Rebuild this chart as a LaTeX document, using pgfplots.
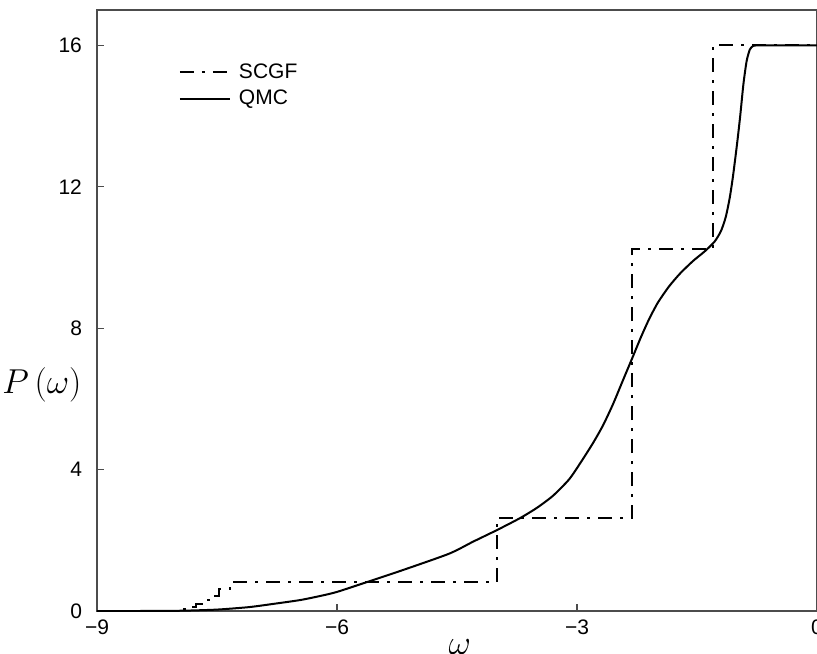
\documentclass[border=0pt]{standalone}
\usepackage{pgfplots}
\pgfplotsset{compat=1.18}
\usepackage{fontspec}
\setmainfont{Liberation Sans}

% SCGF: staircase estimate of P(omega)
\pgfplotstableread{
x y
-9.00 0
-7.96 0
-7.96 0.05
-7.86 0.05
-7.86 0.11
-7.76 0.11
-7.76 0.20
-7.66 0.20
-7.66 0.30
-7.56 0.30
-7.56 0.42
-7.48 0.42
-7.48 0.62
-7.34 0.62
-7.34 0.82
-4.00 0.82
-4.00 2.63
-2.31 2.63
-2.31 10.23
-1.30 10.23
-1.30 16.00
0.00 16.00
}\scgf

% QMC: quantum Monte Carlo curve
\pgfplotstableread{
x y
-9.00 0
-8.50 0
-8.20 0.002
-7.90 0.01
-7.50 0.04
-7.10 0.11
-6.80 0.20
-6.46 0.31
-6.20 0.43
-6.00 0.54
-5.65 0.80
-5.20 1.14
-4.60 1.62
-4.30 1.96
-4.00 2.29
-3.71 2.63
-3.50 2.92
-3.30 3.26
-3.10 3.72
-2.96 4.18
-2.80 4.75
-2.675 5.25
-2.55 5.85
-2.425 6.53
-2.31 7.15
-2.20 7.75
-2.10 8.25
-1.99 8.72
-1.85 9.18
-1.71 9.55
-1.55 9.90
-1.40 10.18
-1.28 10.45
-1.20 10.75
-1.14 11.15
-1.09 11.70
-1.05 12.30
-1.00 13.20
-0.96 14.00
-0.92 14.90
-0.88 15.55
-0.84 15.88
-0.80 15.98
-0.74 16.00
-0.50 16.00
0.00 16.00
}\qmc

\begin{document}
\begin{tikzpicture}
\begin{axis}[
  name=ax,
  scale only axis,
  width=360pt, height=300.5pt,
  xmin=-9, xmax=0, ymin=0, ymax=17,
  axis line style={draw=black!70, line width=0.7pt},
  tick style={draw=black!70, line width=0.6pt},
  tick align=inside,
  major tick length=3.5pt,
  xtick pos=bottom, ytick pos=left,
  xtick={-9,-6,-3,0},
  xticklabels={−9,−6,−3,0},
  ytick={0,4,8,12,16},
  yticklabels={0,4,8,12,16},
  ticklabel style={font=\fontsize{10.5}{12}\selectfont},
  yticklabel style={xshift=-4pt},
  xticklabel style={yshift=-1pt},
  xlabel={$\omega$},
  ylabel={$P\left(\omega\right)$},
  xlabel style={at={(axis description cs:0.504,-0.047)}, anchor=north, inner sep=0pt, font=\fontsize{16}{18}\selectfont},
  ylabel style={at={(axis description cs:-0.021,0.376)}, anchor=east, rotate=-90, inner sep=0pt, font=\fontsize{16}{18}\selectfont},
  legend style={draw=none, fill=none, at={(axis description cs:0.105,0.925)}, anchor=north west,
    font=\fontsize{10.5}{12}\selectfont, row sep=0.5pt,
    nodes={inner xsep=4pt}},
  legend cell align=left,
  legend image code/.code={\draw[#1] (0pt,0pt) -- (25pt,0pt);},
]
\addplot[black, line width=1pt, dash pattern=on 7pt off 4pt on 1.5pt off 4pt] table {\scgf};
\addlegendentry{SCGF}
\addplot[black, line width=1pt, smooth, tension=0.4] table {\qmc};
\addlegendentry{QMC}
\end{axis}
\pgfresetboundingbox
\path[use as bounding box] ([shift={(-48.5pt,-21pt)}]ax.south west) rectangle ([shift={(0pt,5pt)}]ax.north east);
\end{tikzpicture}
\end{document}
